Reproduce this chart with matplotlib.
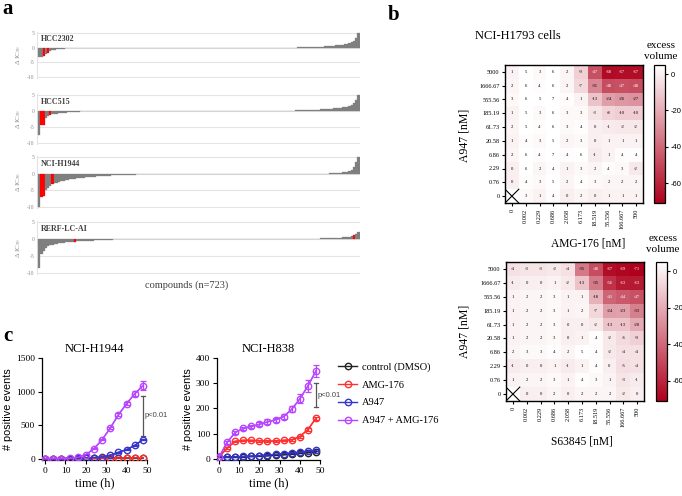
import numpy as np
import matplotlib
matplotlib.use('Agg')
import matplotlib.pyplot as plt
from matplotlib.colors import LinearSegmentedColormap

plt.rcParams['font.family'] = ['Liberation Serif', 'DejaVu Serif']
plt.rcParams['mathtext.fontset'] = 'stix'
plt.rcParams['axes.unicode_minus'] = False

W, H = 682, 496
fig = plt.figure(figsize=(W / 100, H / 100), dpi=100)


def add_ax(x0, y0, x1, y1):
    # axes placed by pixel box (left, top, right, bottom)
    return fig.add_axes([x0 / W, 1 - y1 / H, (x1 - x0) / W, (y1 - y0) / H])


# ---------------- panel a data: sorted delta IC50, one bar per 5 compounds ----------------
n_compounds = 723
bin_size = 5
cell_lines = ['HCC2302', 'HCC515', 'NCI-H1944', 'RERF-LC-AI']

left_tails = [
    [-3.3, -3.1, -3.0, -2.2, -1.9, -1.1, -0.85, -0.7, -0.6, -0.5, -0.42, -0.36, -0.3,
     -0.25, -0.2, -0.16, -0.12, -0.09, -0.06, -0.03],
    [-7.5, -4.3, -4.2, -2.2, -1.7, -1.2, -1.1, -0.95, -0.85, -0.75, -0.65, -0.57, -0.5,
     -0.44, -0.38, -0.33, -0.28, -0.24, -0.2, -0.17, -0.14, -0.11, -0.09, -0.07, -0.05,
     -0.04, -0.03, -0.02],
    [-10.0, -6.8, -6.5, -4.8, -4.2, -3.7, -3.2, -2.9, -2.7, -2.5, -2.3, -2.1, -1.95, -1.8,
     -1.7, -1.6, -1.5, -1.42, -1.35, -1.28, -1.2, -1.12, -1.05, -1.0, -0.95, -0.9, -0.85,
     -0.8, -0.76, -0.72, -0.68, -0.64, -0.6, -0.57, -0.54, -0.51, -0.48, -0.45, -0.42,
     -0.39, -0.36, -0.33, -0.31, -0.29, -0.27, -0.25, -0.23, -0.21, -0.19, -0.17, -0.15,
     -0.13, -0.11, -0.09, -0.07, -0.05, -0.03, -0.02],
    [-8.4, -4.5, -3.4, -2.6, -2.2, -1.9, -1.65, -1.5, -1.38, -1.27, -1.17, -1.08, -1.0,
     -0.93, -0.87, -0.82, -0.9, -0.74, -0.7, -0.66, -0.62, -0.58, -0.54, -0.5, -0.47,
     -0.44, -0.41, -0.38, -0.35, -0.32, -0.29, -0.26, -0.23, -0.2, -0.17, -0.14, -0.11,
     -0.08, -0.05, -0.03],
]
right_tails = [
    [0.03, 0.05, 0.07, 0.1, 0.12, 0.15, 0.18, 0.2, 0.23, 0.26, 0.3, 0.34, 0.38, 0.42,
     0.48, 0.55, 0.62, 0.7, 0.8, 0.9, 1.0, 1.1, 1.25, 1.4, 1.7, 2.3, 3.3, 5.0],
    [0.02, 0.03, 0.04, 0.05, 0.06, 0.07, 0.08, 0.09, 0.1, 0.12, 0.14, 0.16, 0.18, 0.2,
     0.22, 0.25, 0.28, 0.31, 0.35, 0.39, 0.43, 0.48, 0.53, 0.58, 0.64, 0.7, 0.76, 0.83,
     0.9, 0.98, 1.06, 1.15, 1.25, 1.4, 1.7, 2.3, 3.4, 5.0],
    [0.05, 0.1, 0.15, 0.2, 0.25, 0.3, 0.38, 0.45, 0.55, 0.7, 1.0, 1.8, 3.5, 5.0],
    [0.02, 0.03, 0.04, 0.05, 0.06, 0.07, 0.08, 0.1, 0.12, 0.14, 0.16, 0.18, 0.2, 0.23,
     0.26, 0.3, 0.34, 0.38, 0.43, 0.5, 0.58, 0.66, 0.75, 1.0, 1.4, 2.0],
]
# highlighted (red) bars, index into the bar array (negative = from the right end)
red_bars = [[2, 4], [1, 2, 5], [1, 2, 6], [16, -3]]

panel_a_boxes = [(37, 32, 360, 78), (37, 94, 360, 144), (37, 156, 360, 208), (37, 221, 360, 274)]
n_bars = int(np.ceil(n_compounds / bin_size))

for name, left, right, reds, box in zip(cell_lines, left_tails, right_tails, red_bars, panel_a_boxes):
    ax = add_ax(*box)
    vals = np.array(left + [0.0] * (n_bars - len(left) - len(right)) + right)
    colors = ['#7f7f7f'] * n_bars
    for r in reds:
        colors[r % n_bars] = '#ff0000'
    ax.bar(np.arange(n_bars), vals, width=1.0, color=colors, edgecolor=colors, linewidth=0.2, zorder=3)
    ax.set_xlim(-1, n_bars - 0.3)
    ax.set_ylim(-10.2, 5.2)
    ax.set_yticks([5, 0, -5, -10])
    ax.set_xticks([])
    ax.grid(axis='y', color='#e4e4e4', linewidth=0.8, zorder=0)
    ax.tick_params(axis='y', length=0, labelsize=4, labelcolor='#888888', pad=2)
    for s in ['top', 'right', 'bottom']:
        ax.spines[s].set_visible(False)
    ax.spines['left'].set_color('#e4e4e4')
    ax.set_ylabel('Δ IC$_{50}$', fontsize=5, color='#888888', labelpad=3)
    ax.text(0.012, 0.93, name, transform=ax.transAxes, fontsize=5.8, fontweight='bold',
            color='#404040', va='top')

fig.text(187 / W, 1 - 285 / H, 'compounds (n=723)', fontsize=7.5, color='#404040', ha='center', va='center')

# ---------------- panel b data: excess volume matrices ----------------
a947_conc = ['5000', '1666.67', '555.56', '185.19', '61.73', '20.58', '6.86', '2.29', '0.76', '0']
partner_conc = ['0', '0.002', '0.229', '0.686', '2.058', '6.173', '18.519', '55.556', '166.667', '500']

excess_amg176 = np.array([
    [1, 5, 3, 6, 2, -9, -47, -68, -67, -67],
    [2, 6, 4, 6, 2, -7, -31, -48, -47, -48],
    [3, 6, 5, 7, 4, 1, -13, -24, -26, -27],
    [1, 5, 3, 6, 3, 3, -3, -8, -10, -10],
    [2, 5, 4, 6, 3, 4, 0, -1, -2, -2],
    [1, 4, 3, 5, 2, 3, 0, 1, 1, 1],
    [2, 6, 4, 7, 4, 6, -1, 1, 4, 4],
    [0, 6, 2, 4, 1, 3, 2, 4, 3, -2],
    [0, 4, 3, 5, 2, 4, 3, 2, 2, 2],
    [np.nan, 3, 1, 4, 0, 2, 0, 1, 1, 1],
])
excess_s63845 = np.array([
    [-4, -3, -3, -2, -4, -35, -48, -67, -69, -71],
    [-1, 0, 0, 1, -2, -13, -35, -56, -63, -63],
    [1, 2, 2, 3, 1, 1, -18, -41, -44, -47],
    [1, 2, 2, 3, 1, 2, -7, -24, -23, -33],
    [1, 2, 2, 3, 0, 0, -2, -13, -13, -20],
    [1, 2, 2, 3, 0, 1, 4, -2, -6, -9],
    [2, 3, 3, 4, 2, 5, 4, -2, -4, -4],
    [-1, 0, 0, 1, -1, 1, 4, 0, -5, -4],
    [1, 2, 2, 3, 1, 4, 3, 1, -3, -1],
    [np.nan, 0, 0, 2, 0, 2, 2, 2, -2, 0],
])

cmap = LinearSegmentedColormap.from_list('excess', ['#ae001c', '#ffffff'])
cmap.set_bad('white')

heatmaps = [
    (excess_amg176, 'AMG-176 [nM]', (505, 65, 643, 203), (654, 65, 665, 203), 588, 243, 135, 51),
    (excess_s63845, 'S63845 [nM]', (506, 262, 644, 401), (656, 262, 667, 401), 582, 442, 331, 244),
]
for data, xlab, box, cbox, xl_x, xl_y, yl_y, ev_y in heatmaps:
    ax = add_ax(*box)
    im = ax.imshow(np.ma.masked_invalid(data), cmap=cmap, vmin=-71, vmax=5, aspect='auto')
    nr, nc = data.shape
    for i in range(nr):
        for j in range(nc):
            v = data[i, j]
            if np.isnan(v):
                continue
            ax.text(j, i, f'{int(v)}', ha='center', va='center', fontsize=3.3,
                    color='white' if v < -40 else 'black')
    ax.plot([-0.5, 0.5], [nr - 0.5, nr - 1.5], color='black', lw=0.8)
    ax.plot([-0.5, 0.5], [nr - 1.5, nr - 0.5], color='black', lw=0.8)
    ax.set_xlim(-0.5, nc - 0.5)
    ax.set_ylim(nr - 0.5, -0.5)
    ax.set_xticks(range(nc))
    ax.set_xticklabels(partner_conc, rotation=90, fontsize=4.5)
    ax.set_yticks(range(nr))
    ax.set_yticklabels(a947_conc, fontsize=4.5)
    ax.tick_params(length=2.5, width=0.8, pad=1.5)
    for s in ax.spines.values():
        s.set_linewidth(1.0)
    cax = add_ax(*cbox)
    cb = fig.colorbar(im, cax=cax, ticks=[0, -20, -40, -60])
    cb.outline.set_linewidth(0.9)
    cax.tick_params(labelsize=5.5, length=2.5, width=0.8, pad=1.5)
    for t in cax.get_yticklabels():
        t.set_family('Liberation Sans')
    fig.text(xl_x / W, 1 - xl_y / H, xlab, fontsize=8.3, ha='center', va='center')
    fig.text(465 / W, 1 - yl_y / H, 'A947 [nM]', fontsize=8.5, rotation=90, ha='center', va='center')
    fig.text((cbox[0] + cbox[2]) / 2 / W + 0.002, 1 - ev_y / H, 'excess\nvolume', fontsize=8,
             ha='center', va='center', linespacing=1.15)

fig.text(518 / W, 1 - 36 / H, 'NCI-H1793 cells', fontsize=9, ha='center', va='center')

# ---------------- panel c data: positive events over time ----------------
time_h = [0, 4, 8, 12, 16, 20, 24, 28, 32, 36, 40, 44, 48]

h1944_control = [5, 5, 5, 6, 7, 8, 9, 10, 11, 12, 13, 14, 15]
h1944_amg176 = [5, 6, 6, 7, 8, 9, 10, 11, 12, 14, 15, 17, 20]
h1944_a947 = [5, 5, 6, 7, 10, 14, 20, 30, 55, 99, 139, 203, 287]
h1944_combo = [5, 5, 6, 10, 25, 64, 153, 287, 460, 658, 822, 970, 1089]
h1944_combo_err = [0, 0, 0, 0, 3, 5, 10, 10, 15, 20, 25, 40, 70]
h1944_a947_err = [0, 0, 0, 0, 0, 1, 2, 3, 4, 5, 6, 8, 10]

h838_control = [8, 8, 8, 9, 10, 11, 13, 15, 17, 19, 22, 25, 28]
h838_amg176 = [8, 43, 70, 74, 74, 72, 71, 71, 74, 76, 89, 116, 162]
h838_a947 = [8, 8, 8, 10, 11, 13, 16, 18, 21, 24, 27, 31, 35]
h838_combo = [7, 66, 105, 121, 129, 137, 147, 155, 168, 197, 238, 289, 349]
h838_combo_err = [0, 5, 6, 6, 6, 8, 10, 8, 10, 12, 18, 25, 25]
h838_amg176_err = [0, 3, 3, 3, 3, 3, 3, 3, 3, 3, 4, 6, 6]
h838_a947_err = [0, 1, 1, 1, 1, 1, 2, 2, 2, 3, 3, 4, 5]

labels = ['control (DMSO)', 'AMG-176', 'A947', 'A947 + AMG-176']
colors_c = ['#222222', '#ff3030', '#3535cc', '#b845ff']

panels_c = [
    ('NCI-H1944', (42, 358, 147, 460), (-1.5, 50), (-15, 1500), [0, 500, 1000, 1500],
     [h1944_control, h1944_amg176, h1944_a947, h1944_combo],
     [None, None, h1944_a947_err, h1944_combo_err], (48, 345, 940)),
    ('NCI-H838', (217, 358, 320, 460), (-1, 50), (-4, 400), [0, 100, 200, 300, 400],
     [h838_control, h838_amg176, h838_a947, h838_combo],
     [None, h838_amg176_err, h838_a947_err, h838_combo_err], (48, 205, 300)),
]
handles = []
for title, box, xlim, ylim, yticks, series, errs, pbar in panels_c:
    ax = add_ax(*box)
    handles = []
    for y, e, c, lab in zip(series, errs, colors_c, labels):
        ax.errorbar(time_h, y, yerr=e, color=c, lw=1, elinewidth=0.9, capsize=2, capthick=0.9, zorder=3)
        h, = ax.plot(time_h, y, color=c, lw=1, marker='o', ms=4.6, mfc='none', mew=1.0, label=lab, zorder=4)
        handles.append(h)
    ax.set_xlim(*xlim)
    ax.set_ylim(*ylim)
    ax.set_xticks([0, 10, 20, 30, 40, 50])
    ax.set_yticks(yticks)
    ax.tick_params(labelsize=6.8, length=3, width=0.8, pad=2)
    for s in ['top', 'right']:
        ax.spines[s].set_visible(False)
    for s in ['left', 'bottom']:
        ax.spines[s].set_linewidth(0.9)
    ax.set_title(title, fontsize=9, pad=4)
    ax.set_xlabel('time (h)', fontsize=9, labelpad=2)
    ax.set_ylabel('# positive events', fontsize=7.8, family='Liberation Sans', labelpad=2)
    bx, b0, b1 = pbar
    cw = (xlim[1] - xlim[0]) * 0.02
    ax.plot([bx, bx], [b0, b1], color='#555555', lw=0.9, zorder=2)
    ax.plot([bx - cw, bx + cw], [b0, b0], color='#555555', lw=0.9, zorder=2)
    ax.plot([bx - cw, bx + cw], [b1, b1], color='#555555', lw=0.9, zorder=2)
    ax.text(bx + 1.0, (b0 + b1) / 2, 'p<0.01', fontsize=5.5, family='Liberation Sans',
            color='#444444', va='center', ha='left')

fig.legend(handles=handles, labels=labels, loc='upper left',
           bbox_to_anchor=(334 / W, 1 - 358 / H), frameon=False, fontsize=7.5,
           handlelength=1.8, handletextpad=0.5, labelspacing=0.82, borderaxespad=0)

# panel letters
fig.text(8 / W, 1 - 9 / H, 'a', fontsize=15, fontweight='bold', ha='center', va='center')
fig.text(394 / W, 1 - 15 / H, 'b', fontsize=15, fontweight='bold', ha='center', va='center')
fig.text(8 / W, 1 - 336 / H, 'c', fontsize=15, fontweight='bold', ha='center', va='center')

fig.savefig('out.png', dpi=100)
